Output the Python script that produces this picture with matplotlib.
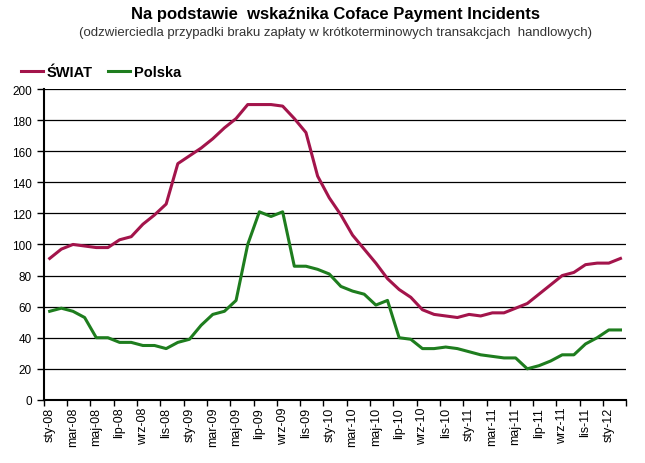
import numpy as np
import matplotlib
matplotlib.use("Agg")
import matplotlib.pyplot as plt
from matplotlib.ticker import FixedLocator, NullFormatter

plt.rcParams['font.family'] = ['Liberation Sans', 'DejaVu Sans']

# month labels, Jan 2008 .. Feb 2012
month_names = ['sty', 'lut', 'mar', 'kwi', 'maj', 'cze',
               'lip', 'sie', 'wrz', 'paź', 'lis', 'gru']
years = ['08', '09', '10', '11', '12']
months = [m + '-' + y for y in years for m in month_names][:50]

swiat = [91, 97, 100, 99, 98, 98, 103, 105, 113, 119,
         126, 152, 157, 162, 168, 175, 181, 190, 190, 190,
         189, 181, 172, 144, 130, 119, 106, 97, 88, 78,
         71, 66, 58, 55, 54, 53, 55, 54, 56, 56,
         59, 62, 68, 74, 80, 82, 87, 88, 88, 91]

polska = [57, 59, 57, 53, 40, 40, 37, 37, 35, 35,
          33, 37, 39, 48, 55, 57, 64, 100, 121, 118,
          121, 86, 86, 84, 81, 73, 70, 68, 61, 64,
          40, 39, 33, 33, 34, 33, 31, 29, 28, 27,
          27, 20, 22, 25, 29, 29, 36, 40, 45, 45]

x = np.arange(len(months))

fig = plt.figure(figsize=(6.45, 4.64), dpi=100)
ax = fig.add_axes([0.068, 0.136, 0.903, 0.670])

ax.plot(x, swiat, color='#A3144B', lw=2.2, label='ŚWIAT')
ax.plot(x, polska, color='#1E7D1E', lw=2.2, label='Polska')

ax.set_xlim(-0.5, len(months) - 0.5)
ax.set_ylim(0, 200)
ax.set_yticks(np.arange(0, 201, 20))
ax.yaxis.grid(True, color='black', lw=0.9)
ax.set_axisbelow(True)

# labels every 2nd month, tick marks on category borders
ax.set_xticks(x[::2])
ax.set_xticklabels(months[::2], rotation=90, fontsize=9)
ax.tick_params(axis='x', which='major', length=0, pad=5)
ax.xaxis.set_minor_locator(FixedLocator(np.arange(-0.5, len(months), 2)))
ax.xaxis.set_minor_formatter(NullFormatter())
ax.tick_params(axis='x', which='minor', length=4, width=1, direction='out')
ax.tick_params(axis='y', labelsize=8.5, length=5, width=1, direction='out')

for s in ['top', 'right']:
    ax.spines[s].set_visible(False)
ax.spines['left'].set_linewidth(1.5)
ax.spines['bottom'].set_linewidth(1.5)

fig.text(0.52, 0.968, 'Na podstawie  wskaźnika Coface Payment Incidents',
         ha='center', va='center', fontsize=12, fontweight='bold')
fig.text(0.52, 0.928, '(odzwierciedla przypadki braku zapłaty w krótkoterminowych transakcjach  handlowych)',
         ha='center', va='center', fontsize=9.5, color='#333333')

ax.legend(loc='lower left', bbox_to_anchor=(0.012, 0.80), bbox_transform=fig.transFigure,
          ncol=2, frameon=False, handlelength=1.5, handletextpad=0.25, columnspacing=1.1,
          prop={'weight': 'bold', 'size': 10.5})

fig.savefig('out.png', dpi=100)
